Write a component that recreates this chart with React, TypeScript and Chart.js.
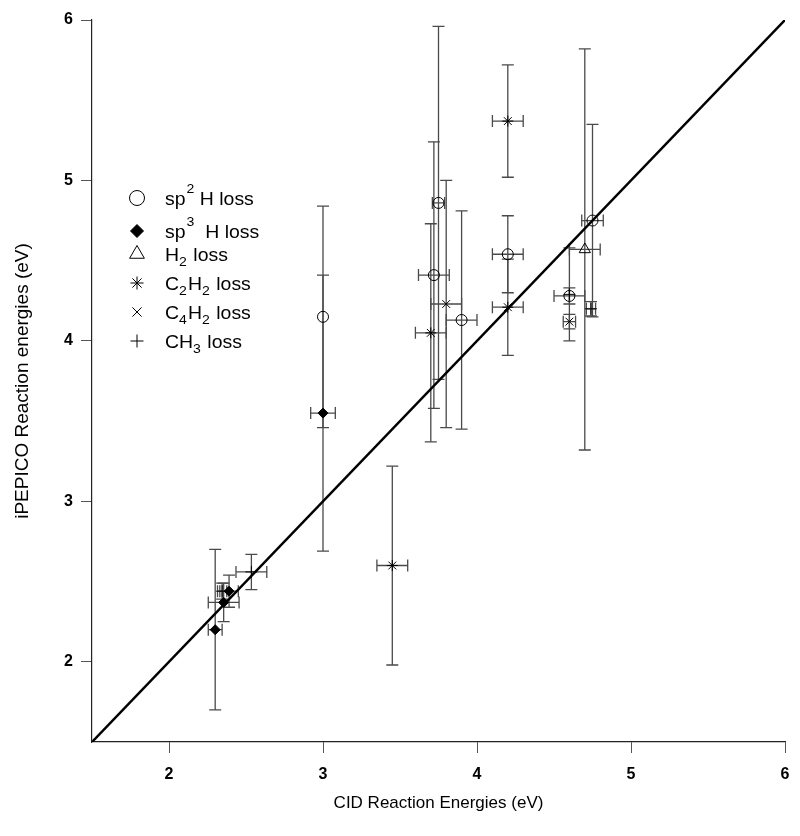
import React, { useEffect, useRef } from "react";
import { Chart, registerables } from "chart.js";
import { drawPoint } from "chart.js/helpers";

Chart.register(...registerables);

// ---- data ----
const sp2X = [3.0, 3.75, 3.72, 3.9, 4.2, 4.75, 4.6];
const sp2Y = [4.15, 4.86, 4.41, 4.13, 4.54, 4.75, 4.28];
const sp2XErr = [0, 0.04, 0.1, 0.1, 0.1, 0.07, 0.1];
const sp2YErr = [0.69, 1.1, 0.83, 0.68, 0.24, 0.6, 0.05];

const sp3X = [3.0, 2.3, 2.355, 2.39];
const sp3Y = [3.55, 2.2, 2.37, 2.44];
const sp3XErr = [0.08, 0.045, 0.1, 0.06];
const sp3YErr = [0.86, 0.5, 0.12, 0.1];

const h2X = [4.7];
const h2Y = [4.57];
const h2XErr = [0.1];
const h2YErr = [1.25];

const c2h2X = [3.45, 4.2, 4.2, 3.7];
const c2h2Y = [2.6, 5.37, 4.21, 4.05];
const c2h2XErr = [0.1, 0.1, 0.1, 0.1];
const c2h2YErr = [0.62, 0.35, 0.3, 0.68];

const c4h2X = [3.8, 4.6];
const c4h2Y = [4.23, 4.12];
const c4h2XErr = [0.1, 0.04];
const c4h2YErr = [0.77, 0.045];

const ch3X = [4.6, 4.74, 2.535, 2.345];
const ch3Y = [4.29, 4.2, 2.56, 2.44];
const ch3XErr = [0, 0.03, 0.1, 0.03];
const ch3YErr = [0.29, 0.045, 0.11, 0.05];

const xTickVals = [2, 3, 4, 5, 6];
const yTickVals = [2, 3, 4, 5, 6];
const axisMin = 1.5;
const axisMax = 6;

type Series = {
  label: string;
  parts: { t: string; kind: "n" | "sub" | "sup" }[];
  xs: number[];
  ys: number[];
  xe: number[];
  ye: number[];
  style: string;
  filled: boolean;
  radius: number;
};

const series: Series[] = [
  { label: "sp2 H loss", parts: [{ t: "sp", kind: "n" }, { t: "2", kind: "sup" }, { t: " H loss", kind: "n" }], xs: sp2X, ys: sp2Y, xe: sp2XErr, ye: sp2YErr, style: "circle", filled: false, radius: 5.5 },
  { label: "sp3 H loss", parts: [{ t: "sp", kind: "n" }, { t: "3", kind: "sup" }, { t: "  H loss", kind: "n" }], xs: sp3X, ys: sp3Y, xe: sp3XErr, ye: sp3YErr, style: "rectRot", filled: true, radius: 5 },
  { label: "H2 loss", parts: [{ t: "H", kind: "n" }, { t: "2", kind: "sub" }, { t: " loss", kind: "n" }], xs: h2X, ys: h2Y, xe: h2XErr, ye: h2YErr, style: "triangle", filled: false, radius: 6.5 },
  { label: "C2H2 loss", parts: [{ t: "C", kind: "n" }, { t: "2", kind: "sub" }, { t: "H", kind: "n" }, { t: "2", kind: "sub" }, { t: " loss", kind: "n" }], xs: c2h2X, ys: c2h2Y, xe: c2h2XErr, ye: c2h2YErr, style: "star", filled: false, radius: 5.5 },
  { label: "C4H2 loss", parts: [{ t: "C", kind: "n" }, { t: "4", kind: "sub" }, { t: "H", kind: "n" }, { t: "2", kind: "sub" }, { t: " loss", kind: "n" }], xs: c4h2X, ys: c4h2Y, xe: c4h2XErr, ye: c4h2YErr, style: "crossRot", filled: false, radius: 5.5 },
  { label: "CH3 loss", parts: [{ t: "CH", kind: "n" }, { t: "3", kind: "sub" }, { t: " loss", kind: "n" }], xs: ch3X, ys: ch3Y, xe: ch3XErr, ye: ch3YErr, style: "cross", filled: false, radius: 6 },
];

const FONT = "'Liberation Sans', Arial, Helvetica, sans-serif";

const errorBarPlugin = {
  id: "errorBars",
  beforeDatasetsDraw(chart: any) {
    const ctx = chart.ctx;
    const xs = chart.scales.x;
    const ys = chart.scales.y;
    const cap = 6;
    ctx.save();
    ctx.strokeStyle = "#4a4a4a";
    ctx.lineWidth = 1.3;
    series.forEach((s) => {
      s.xs.forEach((xv, i) => {
        const px = xs.getPixelForValue(xv);
        const py = ys.getPixelForValue(s.ys[i]);
        const ye = s.ye[i];
        const xe = s.xe[i];
        ctx.beginPath();
        if (ye > 0) {
          const top = ys.getPixelForValue(s.ys[i] + ye);
          const bot = ys.getPixelForValue(s.ys[i] - ye);
          ctx.moveTo(px, top);
          ctx.lineTo(px, bot);
          ctx.moveTo(px - cap, top);
          ctx.lineTo(px + cap, top);
          ctx.moveTo(px - cap, bot);
          ctx.lineTo(px + cap, bot);
        }
        if (xe > 0) {
          const l = xs.getPixelForValue(xv - xe);
          const r = xs.getPixelForValue(xv + xe);
          ctx.moveTo(l, py);
          ctx.lineTo(r, py);
          ctx.moveTo(l, py - cap);
          ctx.lineTo(l, py + cap);
          ctx.moveTo(r, py - cap);
          ctx.lineTo(r, py + cap);
        }
        ctx.stroke();
      });
    });
    ctx.restore();
  },
};

const legendPlugin = {
  id: "customLegend",
  afterDraw(chart: any) {
    const ctx = chart.ctx;
    const rowsY = [198, 231, 254, 283, 312, 341];
    const markerX = 137;
    const textX = 165;
    ctx.save();
    series.forEach((s, i) => {
      const y = rowsY[i];
      ctx.strokeStyle = "#000";
      ctx.fillStyle = s.filled ? "#000" : "rgba(0,0,0,0)";
      ctx.lineWidth = 1;
      drawPoint(ctx, { pointStyle: s.style as any, radius: s.style === "circle" ? 7.5 : s.style === "triangle" ? 8.5 : 6.5, borderWidth: 1, rotation: 0 } as any, markerX, y);
      ctx.save();
      ctx.translate(textX, 0);
      ctx.scale(1.08, 1);
      let x = 0;
      ctx.fillStyle = "#000";
      ctx.textBaseline = "alphabetic";
      ctx.textAlign = "left";
      s.parts.forEach((p) => {
        if (p.kind === "n") {
          ctx.font = `18px ${FONT}`;
          ctx.fillText(p.t, x, y + 7);
        } else if (p.kind === "sup") {
          ctx.font = `13px ${FONT}`;
          ctx.fillText(p.t, x + 1, y - 5);
        } else {
          ctx.font = `13px ${FONT}`;
          ctx.fillText(p.t, x, y + 12);
        }
        x += ctx.measureText(p.t).width + (p.kind === "n" ? 0 : 1);
      });
      ctx.restore();
    });
    ctx.restore();
  },
};

export default function App() {
  const ref = useRef<HTMLCanvasElement | null>(null);
  useEffect(() => {
    if (!ref.current) return;
    const datasets: any[] = series.map((s) => ({
      label: s.label,
      data: s.xs.map((x, i) => ({ x, y: s.ys[i] })),
      pointStyle: s.style,
      pointRadius: s.radius,
      pointHoverRadius: s.radius,
      pointBorderColor: "#000",
      pointBackgroundColor: s.filled ? "#000" : "rgba(0,0,0,0)",
      pointBorderWidth: 1,
      showLine: false,
      order: 1,
    }));
    datasets.push({
      label: "y = x",
      data: [
        { x: axisMin, y: axisMin },
        { x: axisMax, y: axisMax },
      ],
      showLine: true,
      borderColor: "#000",
      borderWidth: 2.5,
      pointRadius: 0,
      order: 2,
    });
    const chart = new Chart(ref.current, {
      type: "scatter",
      data: { datasets },
      plugins: [errorBarPlugin, legendPlugin],
      options: {
        responsive: false,
        animation: false,
        events: [],
        layout: { padding: { top: 20, right: 15, left: 0, bottom: 0 } },
        plugins: { legend: { display: false }, tooltip: { enabled: false } },
        scales: {
          x: {
            type: "linear",
            min: axisMin,
            max: axisMax,
            afterBuildTicks: (sc: any) => {
              sc.ticks = xTickVals.map((v) => ({ value: v }));
            },
            afterFit: (sc: any) => {
              sc.height = 94;
              sc.paddingLeft = 0;
              sc.paddingRight = 0;
            },
            grid: { drawOnChartArea: false, drawTicks: true, tickLength: 11, color: "#555", lineWidth: 1 },
            border: { display: true, color: "#222", width: 1.2 },
            ticks: { color: "#000", font: { family: FONT, size: 16, weight: "bold" }, padding: 12, maxRotation: 0 },
            title: { display: true, text: "CID Reaction Energies (eV)", color: "#000", font: { family: FONT, size: 17 }, padding: { top: 4, bottom: 22 } },
          },
          y: {
            type: "linear",
            min: axisMin,
            max: axisMax,
            afterBuildTicks: (sc: any) => {
              sc.ticks = yTickVals.map((v) => ({ value: v }));
            },
            afterFit: (sc: any) => {
              sc.width = 92;
              sc.paddingTop = 0;
              sc.paddingBottom = 0;
            },
            grid: { drawOnChartArea: false, drawTicks: true, tickLength: 11, color: "#555", lineWidth: 1 },
            border: { display: true, color: "#222", width: 1.2 },
            ticks: { color: "#000", font: { family: FONT, size: 16, weight: "bold" }, padding: 8 },
            title: { display: true, text: "iPEPICO Reaction energies (eV)", color: "#000", font: { family: FONT, size: 19 }, padding: { top: 11, bottom: 4 } },
          },
        },
      } as any,
    });
    return () => chart.destroy();
  }, []);
  return (
    <div style={{ position: "fixed", left: 0, top: 0, width: 800, height: 836, background: "#fff" }}>
      <canvas ref={ref} width={800} height={836} style={{ display: "block", width: 800, height: 836 }} />
    </div>
  );
}
